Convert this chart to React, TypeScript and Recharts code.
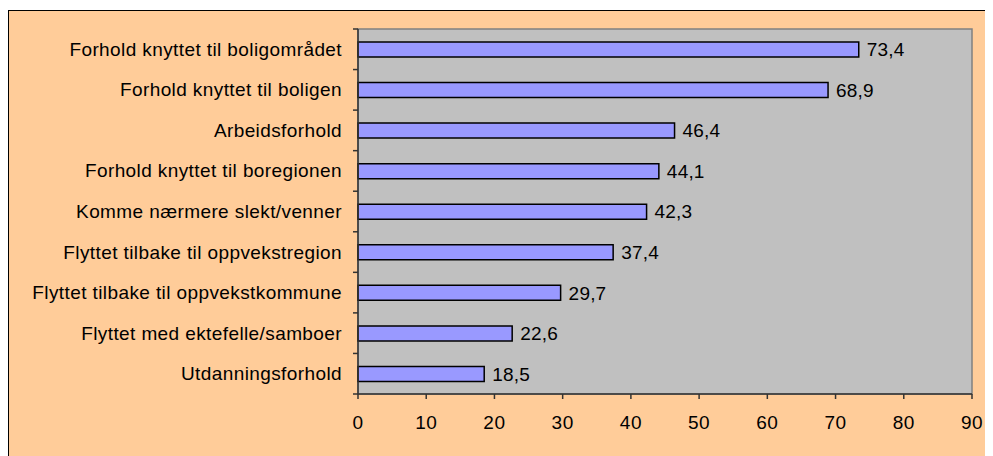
import React from 'react';
import {
  BarChart,
  Bar,
  XAxis,
  YAxis,
  ReferenceArea,
  LabelList,
} from 'recharts';

const categories = [
  'Forhold knyttet til boligområdet',
  'Forhold knyttet til boligen',
  'Arbeidsforhold',
  'Forhold knyttet til boregionen',
  'Komme nærmere slekt/venner',
  'Flyttet tilbake til oppvekstregion',
  'Flyttet tilbake til oppvekstkommune',
  'Flyttet med ektefelle/samboer',
  'Utdanningsforhold',
];
const values = [73.4, 68.9, 46.4, 44.1, 42.3, 37.4, 29.7, 22.6, 18.5];
const xTicks = [0, 10, 20, 30, 40, 50, 60, 70, 80, 90];

const data = categories.map((name, i) => ({ name, value: values[i] }));

const FONT = '"Liberation Sans", Arial, sans-serif';
const CHART_W = 984;
const CHART_H = 445;
const MARGIN = { top: 18, right: 21, left: 0, bottom: 32 };
const PLOT_H = CHART_H - MARGIN.top - MARGIN.bottom - 30;
const BAND = PLOT_H / categories.length;

const CategoryTick = (props: any) => {
  const { x, y, payload, index } = props;
  return (
    <g>
      <line x1={x - 5} x2={x} y1={y - BAND / 2} y2={y - BAND / 2} stroke="#333" strokeWidth={1.5} />
      {index === categories.length - 1 && (
        <line x1={x - 5} x2={x} y1={y + BAND / 2} y2={y + BAND / 2} stroke="#333" strokeWidth={1.5} />
      )}
      <text
        x={x - 16}
        y={y}
        textAnchor="end"
        dominantBaseline="central"
        fontSize={19}
        letterSpacing={0.4}
        fontFamily={FONT}
        fill="#000"
      >
        {payload.value}
      </text>
    </g>
  );
};

export default function App() {
  return (
    <div
      style={{
        marginTop: 2,
        width: 990,
        height: 450,
        background: '#FFCC99',
        borderLeft: '1px solid #000',
        borderTop: '1px solid #000',
      }}
    >
      <BarChart
        width={CHART_W}
        height={CHART_H}
        data={data}
        layout="vertical"
        margin={MARGIN}
        barSize={15}
      >
        <ReferenceArea
          x1={0}
          x2={90}
          fill="#C0C0C0"
          fillOpacity={1}
          stroke="#808080"
          strokeWidth={1.5}
        />
        <XAxis
          type="number"
          domain={[0, 90]}
          ticks={xTicks}
          interval={0}
          tickSize={5}
          tickMargin={17}
          axisLine={{ stroke: '#333', strokeWidth: 1.5 }}
          tickLine={{ stroke: '#333', strokeWidth: 1.5 }}
          tick={{ fontSize: 19, fontFamily: FONT, fill: '#000', letterSpacing: 0.5 }}
        />
        <YAxis
          type="category"
          dataKey="name"
          width={349}
          interval={0}
          tickSize={0}
          tickMargin={0}
          tickLine={false}
          axisLine={{ stroke: '#333', strokeWidth: 1.5 }}
          tick={<CategoryTick />}
        />
        <Bar
          dataKey="value"
          fill="#9999FF"
          stroke="#000"
          strokeWidth={1.5}
          isAnimationActive={false}
        >
          <LabelList
            dataKey="value"
            position="right"
            offset={8}
            formatter={(v: any) => String(v).replace('.', ',')}
            style={{ fontSize: 19, fontFamily: FONT, fill: '#000', letterSpacing: 0.2 }}
          />
        </Bar>
      </BarChart>
    </div>
  );
}
